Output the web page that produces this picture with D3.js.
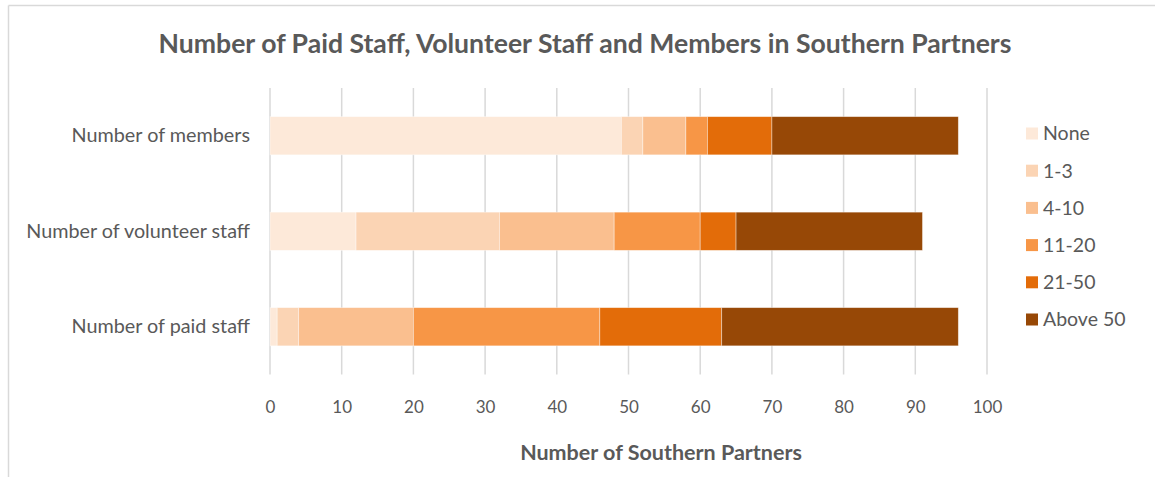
<!DOCTYPE html>
<html>
<head>
<meta charset="utf-8">
<script src="https://cdn.jsdelivr.net/npm/d3@7"></script>
<style>
  html, body { margin: 0; padding: 0; background: #fff; }
  svg { display: block; }
  text { font-family: Lato, "Open Sans", sans-serif; fill: #595959; }
</style>
</head>
<body>
<svg id="chart" width="1155" height="477"></svg>
<script>
// Response categories (top to bottom) and size bands
const categories = ["Number of members", "Number of volunteer staff", "Number of paid staff"];
const bands = ["None", "1-3", "4-10", "11-20", "21-50", "Above 50"];

// Count of Southern Partners in each band, per category
const none = [49, 12, 1];
const oneToThree = [3, 20, 3];
const fourToTen = [6, 16, 16];
const elevenToTwenty = [3, 12, 26];
const twentyOneToFifty = [9, 5, 17];
const aboveFifty = [26, 26, 33];

const xTicks = [0, 10, 20, 30, 40, 50, 60, 70, 80, 90, 100];
const bandColors = ["#FDE9D9", "#FBD4B4", "#FABF8F", "#F79646", "#E36C09", "#974806"];

const seriesValues = [none, oneToThree, fourToTen, elevenToTwenty, twentyOneToFifty, aboveFifty];
const rows = categories.map((c, i) => {
  const r = { category: c };
  bands.forEach((b, j) => { r[b] = seriesValues[j][i]; });
  return r;
});

const svg = d3.select("#chart");

// outer frame
svg.append("line").attr("x1", 8.5).attr("x2", 1155).attr("y1", 5.5).attr("y2", 5.5)
  .attr("stroke", "#D9D9D9").attr("stroke-width", 1.5);
svg.append("line").attr("x1", 8.5).attr("x2", 8.5).attr("y1", 5.5).attr("y2", 477)
  .attr("stroke", "#D9D9D9").attr("stroke-width", 1.5);

const x = d3.scaleLinear().domain([0, 100]).range([270, 987]);
const y = d3.scaleBand().domain(categories).range([88, 374.5])
  .paddingInner(0.6).paddingOuter(0.3);
const color = d3.scaleOrdinal().domain(bands).range(bandColors);

// vertical gridlines
svg.append("g").selectAll("line").data(xTicks).join("line")
  .attr("x1", d => x(d)).attr("x2", d => x(d))
  .attr("y1", 88).attr("y2", 374.5)
  .attr("stroke", "#D9D9D9").attr("stroke-width", 1.5);

// stacked bars
const stacked = d3.stack().keys(bands)(rows);
svg.append("g").selectAll("g").data(stacked).join("g")
  .attr("fill", d => color(d.key))
  .selectAll("rect").data(d => d).join("rect")
  .attr("x", d => x(d[0]))
  .attr("width", d => x(d[1]) - x(d[0]))
  .attr("y", d => y(d.data.category))
  .attr("height", y.bandwidth())
  .attr("stroke", "#fff").attr("stroke-opacity", 0.5).attr("stroke-width", 0.75);

// x axis tick labels
const xAxis = d3.axisBottom(x).tickValues(xTicks).tickSize(0).tickPadding(0);
const gx = svg.append("g").attr("transform", "translate(0,401)").call(xAxis);
gx.select(".domain").remove();
gx.selectAll("text").attr("font-size", 17).attr("font-family", "Lato, 'Open Sans', sans-serif")
  .attr("fill", "#595959");

// category labels
const yAxis = d3.axisLeft(y).tickSize(0).tickPadding(0);
const gy = svg.append("g").attr("transform", "translate(250,0)").call(yAxis);
gy.select(".domain").remove();
gy.selectAll("text").attr("font-size", 19.8).attr("font-family", "Lato, 'Open Sans', sans-serif")
  .attr("fill", "#595959");

// title
svg.append("text").attr("x", 585).attr("y", 53).attr("text-anchor", "middle")
  .attr("font-size", 26.6).attr("font-weight", "bold")
  .text("Number of Paid Staff, Volunteer Staff and Members in Southern Partners");

// axis title
svg.append("text").attr("x", 661).attr("y", 460).attr("text-anchor", "middle")
  .attr("font-size", 21.5).attr("font-weight", "bold")
  .text("Number of Southern Partners");

// legend
const legend = svg.append("g").selectAll("g").data(bands).join("g")
  .attr("transform", (d, i) => `translate(1026,${133.5 + i * 37.2})`);
legend.append("rect").attr("x", 0).attr("y", -6).attr("width", 12).attr("height", 12)
  .attr("fill", d => color(d));
legend.append("text").attr("x", 17).attr("y", 0).attr("dy", "0.35em")
  .attr("font-size", 19.5).text(d => d);
</script>
</body>
</html>
